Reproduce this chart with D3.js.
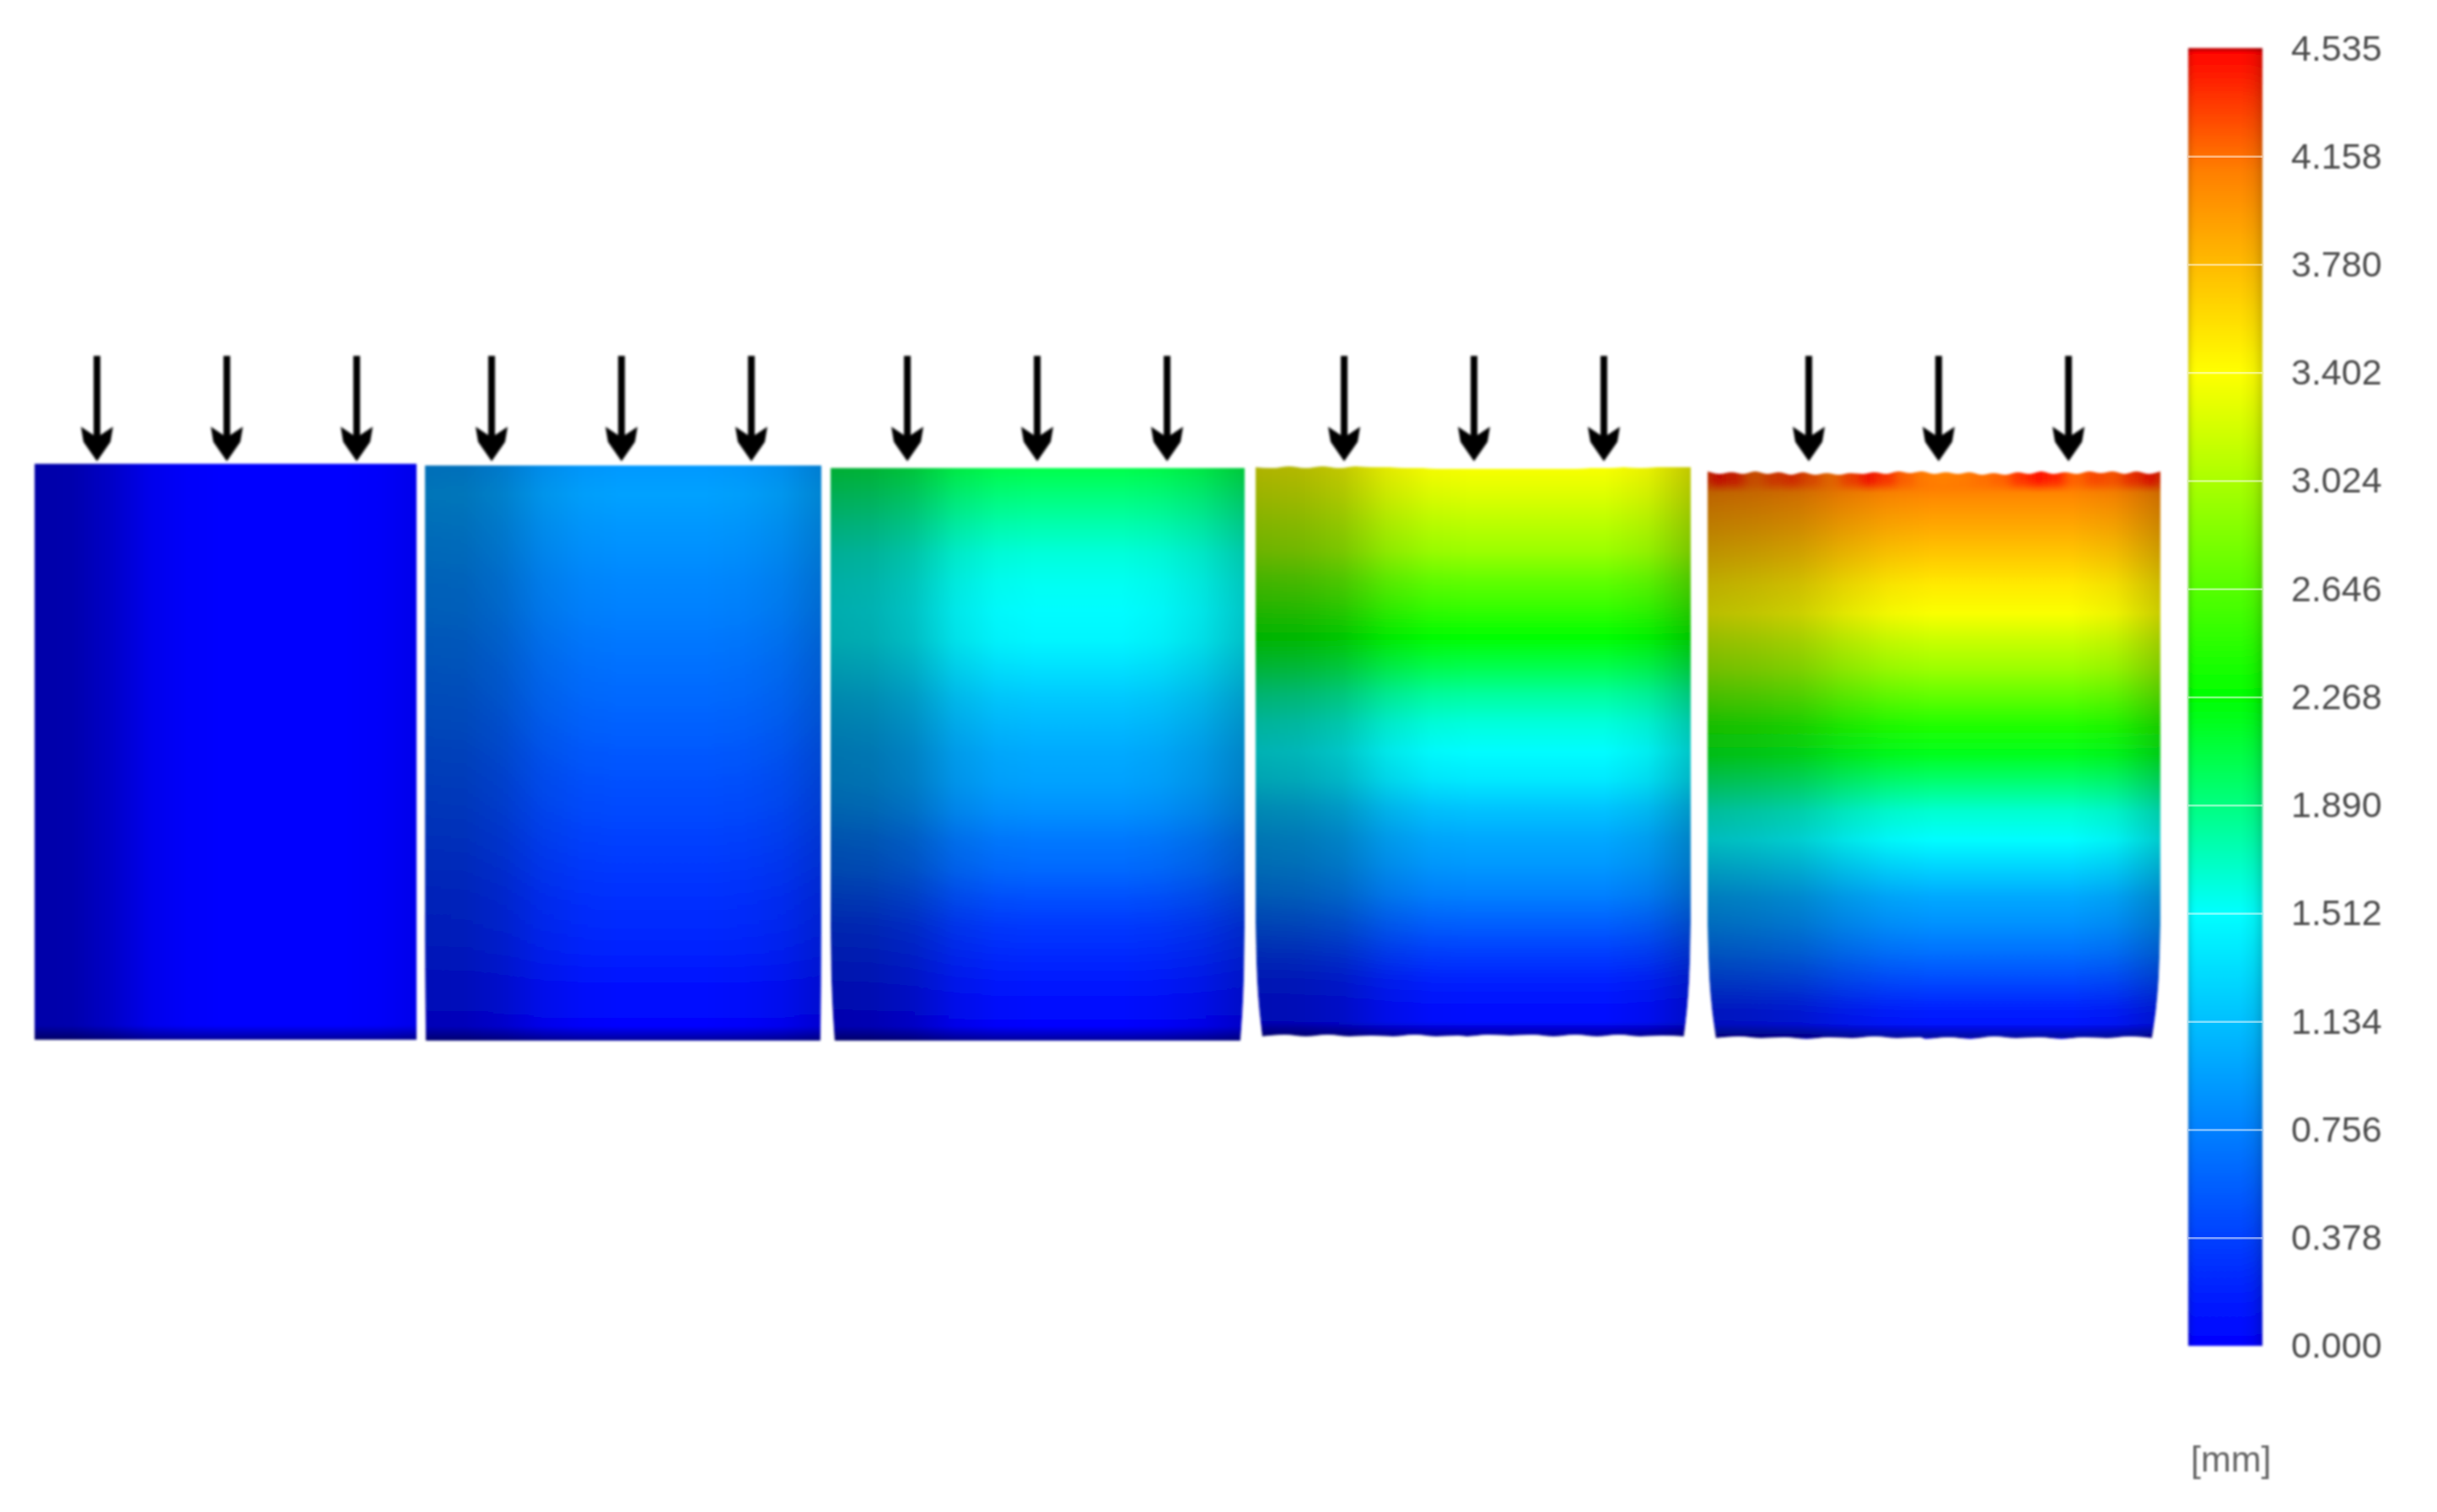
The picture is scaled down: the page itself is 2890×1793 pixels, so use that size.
<!DOCTYPE html>
<html>
<head>
<meta charset="utf-8">
<script src="https://cdn.jsdelivr.net/npm/d3@7"></script>
<style>
    body { margin: 0; background: #fff; }
    svg { display: block; }
    .legend text { font-family: "Liberation Sans", Arial, sans-serif; font-size: 43px; fill: #4d4d4d; }
</style>
</head>
<body>
<div id="chart"></div>
<script>
// define size plot
var width = 2890,
    height = 1793;

//----------------------------------------------------- data -----------------------------------------------------//

// displacement [mm] read down the centre of each specimen, top (0) to bottom (1)
var rowPos = [0, .05, .1, .15, .2, .25, .3, .35, .4, .45, .5, .55, .6, .65, .7, .75, .8, .85, .9, .95, 1];
var stage1 = [.03, .03, .02, .02, .02, .02, .02, .02, .02, .02, .02, .02, .02, .02, .02, .02, .02, .01, .01, .01, .01];
var stage2 = [.9, .95, .9, .85, .8, .76, .71, .66, .62, .57, .52, .47, .43, .38, .33, .28, .24, .19, .1, .05, 0];
var stage3 = [2.05, 1.9, 1.75, 1.62, 1.55, 1.5, 1.46, 1.33, 1.19, 1.09, 1, .95, .85, .71, .62, .47, .33, .24, .14, .05, .01];
var stage4 = [3.38, 3.25, 3.1, 2.95, 2.7, 2.5, 2.27, 2.05, 1.8, 1.62, 1.5, 1.38, 1.16, 1, .9, .76, .57, .38, .2, .08, .02];
var stage5 = [4.18, 4.03, 3.87, 3.7, 3.52, 3.38, 3.15, 2.95, 2.68, 2.4, 2.18, 1.92, 1.65, 1.5, 1.25, 1, .85, .66, .43, .19, .05];
var stages = [stage1, stage2, stage3, stage4, stage5];

// surface brightness across each specimen, left (0) to right (1)
var colPos = [0, .1, .2, .3, .4, .5, .6, .7, .8, .9, 1];
var shade1 = [.66, .68, .78, .92, .98, 1, 1, 1, 1, .98, .92];
var shade2 = [.72, .73, .8, .92, .98, 1, 1, 1, .98, .93, .82];
var shade3 = [.68, .7, .77, .91, .98, 1, 1, 1, .97, .9, .78];
var shade4 = [.7, .72, .78, .91, .98, 1, 1, 1, 1, .94, .78];
var shade5 = [.74, .77, .81, .9, .97, 1, 1, 1, 1, .95, .8];
var shades = [shade1, shade2, shade3, shade4, shade5];

// wavy loaded edge and foot of the last specimens
var topWave4 = [1, 2, 0, 2, 0, 2, 0, 1, 1, 2, 2, 3, 3, 3, 3, 3, 3, 3, 3, 3, 2, 2, 1, 2, 1, 1, 1];
var topWave5 = [0, 3, 1, 3, 0, 3, 1, 4, 1, 4, 2, 4, 2, 3, 1, 3, 0, 2, 0, 3, 1, 3, 1, 4, 2, 4, 1, 3, 0, 3, 1, 3, 0, 2, 0, 3, 0, 3, 0];
var footWave4 = [0, -2, 0, -2, 0, -1, 0, -2, 0, -1, 0, -2, -1, -2, 0, -2, 0, -2, 0, -1, 0];
var footWave5 = [0, -2, 0, -1, 1, -1, 0, -2, 0, -1, 1, -1, 1, -2, 0, -1, 1, -1, 0, -2, 0];
var topWaves = [[0, 0], [0, 0], [0, 0], topWave4, topWave5];
var footWaves = [[0, 0], [0, 0], [0, 0], footWave4, footWave5];

// hot patches along the top of the last specimen
var hotCells = [4.45, 4.4, 4.2, 4.3, 4.35, 4.25, 4.15, 4.3, 4.45, 4.35, 4.2, 4.12, 4.1, 4.12, 4.15, 4.2, 4.35, 4.45, 4.4, 4.2, 4.28, 4.25, 4.35, 4.45];

// barrelling of the side walls towards the foot (share of the full inset)
var sidePos = [0, .8, .85, .9, .95, 1];
var sideInset = [0, 0, .08, .22, .52, 1];

// legend
var tickValues = [0, .378, .756, 1.134, 1.512, 1.89, 2.268, 2.646, 3.024, 3.402, 3.78, 4.158, 4.535];
var colourValues = [0, .756, 1.512, 1.89, 2.268, 2.835, 3.402, 4.1, 4.535];
var colourNames = ["#0000ff", "#0080ff", "#00ffff", "#00ff80", "#00ff00", "#80ff00", "#ffff00", "#ff8000", "#ff0000"];
var barPos = [0, .04, .1, .7, .88, 1];
var barShade = [.8, .94, 1, 1, .95, .82];

//---------------------------------------------------- layout ----------------------------------------------------//

var boxes = [
    {x0: 41, x1: 494, y0: 550, y1: 1233, inset: 0},
    {x0: 504, x1: 974, y0: 552, y1: 1234, inset: 1},
    {x0: 985, x1: 1476, y0: 555, y1: 1234, inset: 5},
    {x0: 1489, x1: 2005, y0: 553, y1: 1229, inset: 8},
    {x0: 2025, x1: 2562, y0: 559, y1: 1231, inset: 10}
];
var arrowCentres = [269, 737, 1230, 1748, 2299];
var arrowOffsets = [-154, 0, 154];
var bar = {x0: 2595, x1: 2683, y0: 57, y1: 1596};

var colour = d3.scaleLinear().domain(colourValues).range(colourNames).clamp(true);

var svg = d3.select("#chart").append("svg")
    .attr("width", width)
    .attr("height", height);
var defs = svg.append("defs");

// the source is a soft scan, so everything gets a light blur
defs.append("filter").attr("id", "soft")
    .attr("filterUnits", "userSpaceOnUse")
    .attr("x", 0).attr("y", 0).attr("width", width).attr("height", height)
    .append("feGaussianBlur").attr("stdDeviation", 1.4);
defs.append("filter").attr("id", "softText")
    .attr("x", "-10%").attr("y", "-20%").attr("width", "120%").attr("height", "140%")
    .append("feGaussianBlur").attr("stdDeviation", 0.9);
defs.append("filter").attr("id", "hotBlur")
    .attr("x", "-20%").attr("y", "-20%").attr("width", "140%").attr("height", "140%")
    .append("feGaussianBlur").attr("stdDeviation", "6 5");

// vertical gradient from values, stops come from the colour scale
function valueGradient(id, positions, values, y0, y1) {
    defs.append("linearGradient").attr("id", id)
        .attr("gradientUnits", "userSpaceOnUse")
        .attr("x1", 0).attr("x2", 0).attr("y1", y0).attr("y2", y1)
        .selectAll("stop").data(values).enter().append("stop")
        .attr("offset", function (d, i) { return positions[i]; })
        .attr("stop-color", function (d) { return colour(d); });
}

// horizontal black veil, darker where the brightness is low
function shadeGradient(id, positions, values) {
    defs.append("linearGradient").attr("id", id)
        .selectAll("stop").data(values).enter().append("stop")
        .attr("offset", function (d, i) { return positions[i]; })
        .attr("stop-color", "#000")
        .attr("stop-opacity", function (d) { return 1 - d; });
}

// veil along the foot of each specimen
var footGrad = defs.append("linearGradient").attr("id", "footVeil")
    .attr("x1", 0).attr("x2", 0).attr("y1", 0).attr("y2", 1);
footGrad.append("stop").attr("offset", .975).attr("stop-color", "#000").attr("stop-opacity", 0);
footGrad.append("stop").attr("offset", 1).attr("stop-color", "#000").attr("stop-opacity", .4);

//-------------------------------------------------- specimens ---------------------------------------------------//

var plot = svg.append("g").attr("filter", "url(#soft)");

var insetAt = d3.scaleLinear().domain(sidePos).range(sideInset);

boxes.forEach(function (box, p) {
    var x = d3.scaleLinear().domain([0, 1]).range([box.x0, box.x1]);
    var y = d3.scaleLinear().domain([0, 1]).range([box.y0, box.y1]);
    var line = d3.line().curve(d3.curveMonotoneX);
    var sideLine = d3.line().curve(d3.curveCatmullRom);

    // outline: top edge left to right, right wall down, foot right to left, left wall up
    var topEdge = d3.scaleLinear().domain([0, topWaves[p].length - 1]).range([0, 1]);
    var footEdge = d3.scaleLinear().domain([0, footWaves[p].length - 1]).range([1, 0]);
    var top = topWaves[p].map(function (d, i) { return [x(topEdge(i)), box.y0 + d]; });
    var foot = footWaves[p].slice().reverse().map(function (d, i) {
        return [x(footEdge(i)) + (footEdge(i) < .5 ? box.inset : -box.inset), box.y1 + d];
    });
    var wallT = d3.range(0, 21).map(function (d) { return d / 20; });
    var right = wallT.map(function (t) { return [box.x1 - box.inset * insetAt(t), y(t)]; });
    var left = wallT.slice().reverse().map(function (t) { return [box.x0 + box.inset * insetAt(t), y(t)]; });
    var outline = line(top) + sideLine(right).replace("M", "L") + line(foot).replace("M", "L") + sideLine(left).replace("M", "L") + "Z";

    defs.append("clipPath").attr("id", "clip" + p).append("path").attr("d", outline);
    valueGradient("value" + p, rowPos, stages[p], box.y0, box.y1);
    shadeGradient("shade" + p, colPos, shades[p]);

    var g = plot.append("g").attr("clip-path", "url(#clip" + p + ")");

    g.append("path").attr("d", outline).attr("fill", "url(#value" + p + ")");

    if (p === 4) {
        var hotX = d3.scaleBand().domain(d3.range(hotCells.length)).range([box.x0, box.x1]);
        g.append("g").attr("filter", "url(#hotBlur)")
            .selectAll("rect").data(hotCells).enter().append("rect")
            .attr("x", function (d, i) { return hotX(i); })
            .attr("y", box.y0 - 10)
            .attr("width", hotX.bandwidth() + 1)
            .attr("height", 28)
            .attr("fill", function (d) { return colour(d); });
    }

    g.append("rect")
        .attr("x", box.x0).attr("y", box.y0 - 10)
        .attr("width", box.x1 - box.x0).attr("height", box.y1 - box.y0 + 20)
        .attr("fill", "url(#shade" + p + ")");
    g.append("rect")
        .attr("x", box.x0).attr("y", box.y0)
        .attr("width", box.x1 - box.x0).attr("height", box.y1 - box.y0)
        .attr("fill", "url(#footVeil)");
});

//---------------------------------------------------- arrows ----------------------------------------------------//

var arrowLine = d3.line();
var arrowShape = [[-4, 422], [4, 422], [4, 516], [19, 506], [16, 524], [0, 547], [-16, 524], [-19, 506], [-4, 516]];

plot.append("g").selectAll("g")
    .data(d3.cross(arrowCentres, arrowOffsets))
    .enter().append("path")
    .attr("transform", function (d) { return "translate(" + (d[0] + d[1]) + ",0)"; })
    .attr("d", arrowLine(arrowShape) + "Z")
    .attr("fill", "#000");

//---------------------------------------------------- legend ----------------------------------------------------//

var barY = d3.scaleLinear().domain([0, 4.536]).range([bar.y1, bar.y0]);

// stops run from the top of the bar (largest value) down
var barValues = colourValues.slice().reverse();
valueGradient("barValue", barValues.map(function (d) { return 1 - d / 4.535; }), barValues, bar.y0, bar.y1);
shadeGradient("barShade", barPos, barShade);

var legend = plot.append("g");
legend.append("rect")
    .attr("x", bar.x0).attr("y", bar.y0)
    .attr("width", bar.x1 - bar.x0).attr("height", bar.y1 - bar.y0)
    .attr("fill", "url(#barValue)");
legend.append("rect")
    .attr("x", bar.x0).attr("y", bar.y0)
    .attr("width", bar.x1 - bar.x0).attr("height", bar.y1 - bar.y0)
    .attr("fill", "url(#barShade)");
legend.append("rect")
    .attr("x", bar.x0).attr("y", bar.y0)
    .attr("width", bar.x1 - bar.x0).attr("height", 4)
    .attr("fill", "#000").attr("opacity", .22);

var axis = d3.axisRight(barY)
    .tickValues(tickValues)
    .tickFormat(d3.format(".3f"))
    .tickSize(-(bar.x1 - bar.x0))
    .tickPadding(34);

var axisG = svg.append("g")
    .attr("class", "legend")
    .attr("transform", "translate(" + bar.x1 + ",0)")
    .call(axis);
axisG.select(".domain").remove();
axisG.selectAll(".tick line")
    .attr("stroke", "#fff")
    .attr("stroke-width", 2.5)
    .attr("stroke-opacity", function (d) { return d === 0 || d === 4.535 ? 0 : .5; });
axisG.selectAll("text").attr("filter", "url(#softText)");

svg.append("text")
    .attr("class", "unit")
    .attr("x", 2598)
    .attr("y", 1745)
    .style("font-family", "'Liberation Sans', Arial, sans-serif")
    .style("font-size", "43px")
    .style("fill", "#666")
    .attr("filter", "url(#softText)")
    .text("[mm]");
</script>
</body>
</html>
